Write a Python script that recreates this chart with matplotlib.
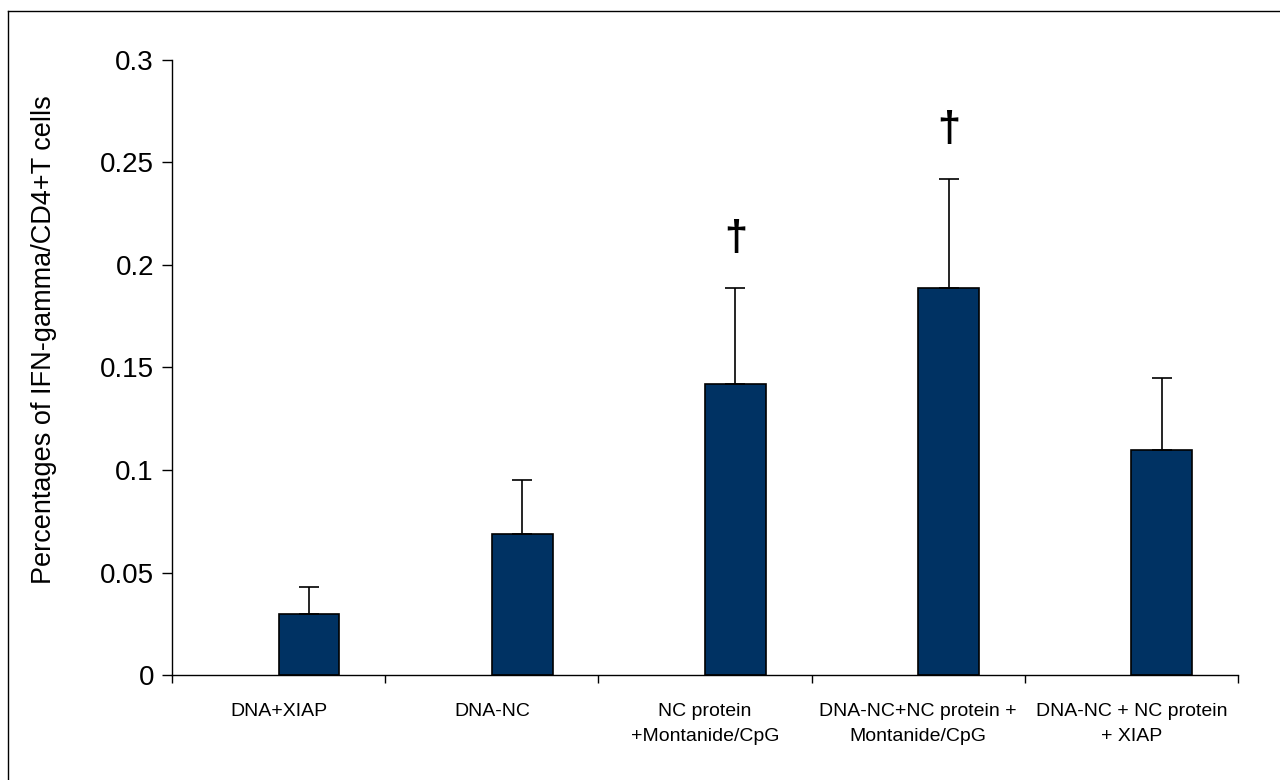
import numpy as np
import matplotlib
matplotlib.use("Agg")
import matplotlib.pyplot as plt
from matplotlib.lines import Line2D

# data
groups = ["DNA+XIAP", "DNA-NC", "NC protein\n+Montanide/CpG",
          "DNA-NC+NC protein +\nMontanide/CpG", "DNA-NC + NC protein\n+ XIAP"]
means = [0.030, 0.069, 0.142, 0.189, 0.110]
errors = [0.013, 0.026, 0.047, 0.053, 0.035]
marks = ["", "", "\u2020", "\u2020", ""]

plt.rcParams["font.family"] = ["Liberation Sans", "DejaVu Sans"]

fig = plt.figure(figsize=(12.8, 7.8), dpi=100)
ax = fig.add_axes([0.1344, 0.1346, 0.8328, 0.7885])

x = np.arange(len(groups))
width = 0.285
# bars start at the category centre (Excel style offset)
ax.bar(x, means, width=width, align="edge", color="#003263",
       edgecolor="black", linewidth=1.2, zorder=2)
ax.errorbar(x + width / 2, means, yerr=[np.zeros(len(errors)), errors],
            fmt="none", ecolor="black", elinewidth=1.2, capsize=7,
            capthick=1.2, zorder=3)

for xi, m, e, s in zip(x, means, errors, marks):
    if s:
        ax.text(xi + width / 2, m + e + 0.014, s, ha="center", va="bottom",
                fontsize=30, fontweight="bold")

ax.set_xlim(-0.5, len(groups) - 0.5)
ax.set_ylim(0, 0.3)
ax.set_yticks(np.arange(0, 0.31, 0.05))
ax.set_yticklabels(["0", "0.05", "0.1", "0.15", "0.2", "0.25", "0.3"])
ax.tick_params(axis="y", direction="out", length=7, width=1, labelsize=20, pad=6)

ax.set_xticks(np.arange(-0.5, len(groups), 1.0))
ax.set_xticklabels([])
ax.set_xticks(x, minor=True)
ax.set_xticklabels(groups, minor=True, fontsize=14, linespacing=1.6)
ax.tick_params(axis="x", which="major", direction="out", length=6, width=1)
ax.tick_params(axis="x", which="minor", length=0, pad=20)

ax.set_ylabel("Percentages of IFN-gamma/CD4+T cells", fontsize=19.5)
ax.yaxis.set_label_coords(-0.108, 0.546)

for side in ["top", "right"]:
    ax.spines[side].set_visible(False)
ax.spines["left"].set_linewidth(1)
ax.spines["bottom"].set_linewidth(1)

# outer frame of the picture (only top and left edges are visible)
fig.add_artist(Line2D([8 / 1280, 1.0], [1 - 11 / 780, 1 - 11 / 780],
                      transform=fig.transFigure, color="black", linewidth=1))
fig.add_artist(Line2D([8 / 1280, 8 / 1280], [0.0, 1 - 11 / 780],
                      transform=fig.transFigure, color="black", linewidth=1))

fig.savefig("out.png", dpi=100)
